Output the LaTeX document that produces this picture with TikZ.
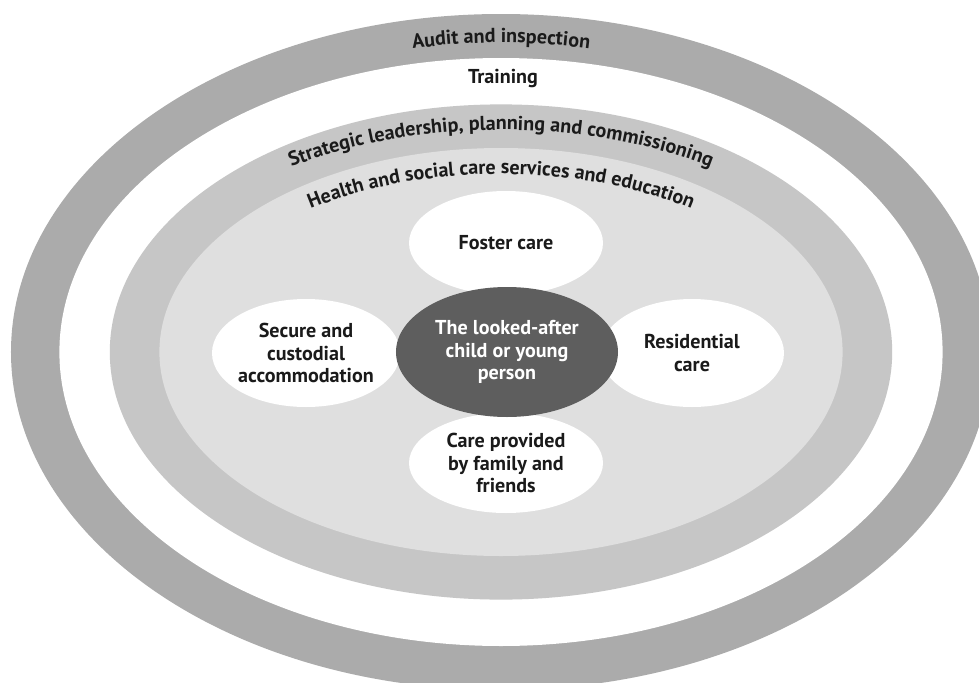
\documentclass[tikz,border=0pt]{standalone}
\usepackage{fontspec}
\setmainfont{PT Sans}
\usetikzlibrary{shapes.geometric, decorations.text}
\definecolor{auditgray}{HTML}{ABABAB}
\definecolor{stratgray}{HTML}{C6C6C6}
\definecolor{servgray}{HTML}{DFDFDF}
\definecolor{childgray}{HTML}{5E5E5E}
\definecolor{inktext}{HTML}{1A1A1A}

\begin{document}
\begin{tikzpicture}[
    every node/.style={font=\bfseries\fontsize{14.3}{16.2}\selectfont, text=inktext},
    setting/.style={
      ellipse, fill=white, inner ysep=0pt, inner xsep=-4pt, align=center
    },
    child/.style={
      ellipse, fill=childgray, inner sep=0pt, align=center, text=white,
      minimum width=5.55cm, minimum height=3.25cm
    },
    ringtext/.style={
      decorate, decoration={text along path, text align=center,
        text={|\bfseries\fontsize{14.3}{16}\selectfont\color{inktext}|#1}}
    },
  ]
  \useasboundingbox (-12.525,-8.25) rectangle (11.95,8.8);
  \clip (-12.525,-8.25) rectangle (11.95,8.8);

  % rings, outside in
  \fill[auditgray] (0,0) ellipse [x radius=12.25cm, y radius=8.45cm];
  \fill[white]     (0,0) ellipse [x radius=11.04cm, y radius=7.35cm];
  \fill[stratgray] (0,0) ellipse [x radius=9.78cm, y radius=6.19cm];
  \fill[servgray]  (0,0) ellipse [x radius=8.54cm, y radius=5.1cm];

  % ring labels
  \path[ringtext={Audit and inspection}]
    (0,0) ++(135:11.5cm and 7.73cm)
    arc [start angle=135, end angle=45, x radius=11.5cm, y radius=7.73cm];
  \node (training) at (0.05,6.83) {Training};
  \path[ringtext={Strategic leadership, planning and commissioning}]
    (0,0) ++(165:9.5cm and 5.55cm)
    arc [start angle=165, end angle=15, x radius=9.5cm, y radius=5.55cm];
  \path[ringtext={Health and social care services and education}]
    (0,0) ++(165:8.0cm and 4.45cm)
    arc [start angle=165, end angle=15, x radius=8.0cm, y radius=4.45cm];

  % care settings
  \node[setting, minimum width=4.85cm, minimum height=2.6cm] (foster) at (0.125,2.725)
    {Foster care};
  \node[setting, minimum width=4.85cm, minimum height=2.5cm] (family) at (0.125,-2.775)
    {Care provided\\by family and\\friends};
  \node[setting, minimum width=4.7cm, minimum height=2.7cm] (secure) at (-4.875,-0.025)
    {Secure and\\custodial\\accommodation};
  \node[setting, minimum width=4.6cm, minimum height=2.7cm] (residential) at (4.775,-0.025)
    {Residential\\care};

  \node[child] (child) at (0.15,0) {The looked-after\\child or young\\person};

\end{tikzpicture}
\end{document}
